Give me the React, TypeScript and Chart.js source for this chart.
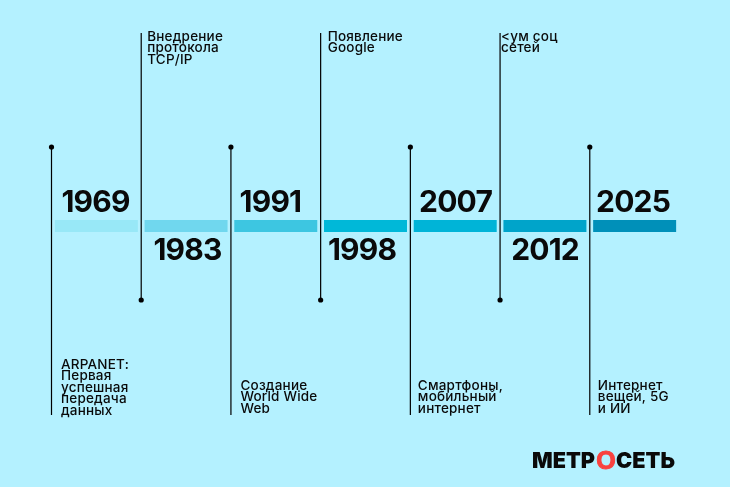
import React, { useEffect, useRef } from "react";
import { Chart, registerables } from "chart.js";

Chart.register(...registerables);

// Data
const years = ["1969", "1983", "1991", "1998", "2007", "2012", "2025"];
const descriptions = [
  ["ARPANET:", "Первая", "успешная", "передача", "данных"],
  ["Внедрение", "протокола", "TCP/IP"],
  ["Создание", "World Wide", "Web"],
  ["Появление", "Google"],
  ["Смартфоны,", "мобильный", "интернет"],
  ["<ум соц", "сетей"],
  ["Интернет", "вещей, 5G", "и ИИ"],
];
const segmentLow = [-6, -6, -6, -6, -6, -6, -6];
const segmentHigh = [6, 6, 6, 6, 6, 6, 6];
const stemTop = [79, 193, 79, 193, 79, 193, 79];
const stemBottom = [-189, -74, -189, -74, -189, -74, -189];
const stemPosition = [0, 1, 2, 3, 4, 5, 6];

// Styles
const BG = "#b4f1ff";
const INK = "#0a0a0a";
const segmentColors = ["#98e8f7", "#70d7ee", "#3dc6e1", "#00b8d8", "#00b4d7", "#00a4ca", "#0090b9"];
const yearCentreOffset = [44, 46.3, 39.5, 41.4, 45.2, 45, 43.3];
const textOffset = [9.5, 6, 9.5, 7, 7.5, 1, 8];
const textLastBaseline = [414.5, 0, 412.5, 0, 412.5, 0, 412.5];
const YEAR_FONT = "700 30px Inter";
const TEXT_FONT = "500 13.5px Inter";
const LINE = 11.4;

const textPlugin = {
  id: "timelineText",
  afterDatasetsDraw(chart: any) {
    const { ctx, scales } = chart;
    const xs = scales.xStem;
    const ys = scales.y;
    ctx.save();
    ctx.fillStyle = INK;
    ctx.textBaseline = "alphabetic";
    years.forEach((yr, i) => {
      const up = i % 2 === 0;
      ctx.font = YEAR_FONT;
      ctx.letterSpacing = "-0.8px";
      ctx.textAlign = "center";
      const yVal = up ? 14 : -33.5;
      ctx.fillText(yr, xs.getPixelForValue(stemPosition[i]) + yearCentreOffset[i], ys.getPixelForValue(yVal));
      ctx.font = TEXT_FONT;
      ctx.letterSpacing = "0.2px";
      ctx.textAlign = "left";
      const lines = descriptions[i];
      const first = up ? textLastBaseline[i] - (lines.length - 1) * LINE : 41;
      lines.forEach((l, k) => {
        ctx.fillText(l, xs.getPixelForValue(stemPosition[i]) + textOffset[i], first + k * LINE);
      });
    });
    // brand mark
    ctx.letterSpacing = "0px";
    ctx.font = "900 22px Inter";
    ctx.textAlign = "left";
    ctx.fillStyle = INK;
    ctx.fillText("МЕТР", 532, 468, 63);
    ctx.fillText("СЕТЬ", 616, 468, 59);
    ctx.font = "700 25px 'Liberation Sans'";
    ctx.textAlign = "center";
    ctx.fillStyle = "#f9423f";
    ctx.strokeStyle = "#f9423f";
    ctx.lineWidth = 1;
    ctx.fillText("О", 606, 469);
    ctx.strokeText("О", 606, 469);
    ctx.restore();
  },
};

export default function App() {
  const ref = useRef<HTMLCanvasElement>(null);
  useEffect(() => {
    document.body.style.margin = "0";
    document.body.style.background = BG;
    const stems = stemPosition.map((p, i) => {
      const up = i % 2 === 0;
      return {
        type: "line" as const,
        xAxisID: "xStem",
        yAxisID: "y",
        data: [
          { x: p, y: stemTop[i] },
          { x: p, y: stemBottom[i] },
        ],
        borderColor: "#000",
        borderWidth: 1.2,
        pointBackgroundColor: "#000",
        pointBorderWidth: 0,
        pointRadius: up ? [2.6, 0] : [0, 2.6],
        clip: false,
        order: 0,
      };
    });
    const chart = new Chart(ref.current!, {
      type: "bar",
      data: {
        labels: years,
        datasets: [
          {
            type: "bar" as const,
            xAxisID: "x",
            yAxisID: "y",
            data: years.map((_, i) => [segmentLow[i], segmentHigh[i]]),
            backgroundColor: segmentColors,
            borderWidth: 0,
            grouped: false,
            barPercentage: 1,
            categoryPercentage: 0.925,
            order: 1,
          },
          ...stems,
        ] as any,
      },
      options: {
        animation: false,
        responsive: false,
        layout: { autoPadding: false, padding: { left: 51.5, right: 50.5, top: 0, bottom: 0 } },
        plugins: { legend: { display: false }, tooltip: { enabled: false } },
        scales: {
          x: { type: "category", display: false, offset: true },
          xStem: { type: "linear", display: false, min: 0, max: 7, offset: false },
          y: { type: "linear", display: false, min: -261, max: 226 },
        },
      },
      plugins: [textPlugin],
    });
    return () => chart.destroy();
  }, []);
  return (
    <div style={{ width: 730, height: 487, background: BG }}>
      <canvas ref={ref} width={730} height={487} style={{ display: "block" }} />
    </div>
  );
}
